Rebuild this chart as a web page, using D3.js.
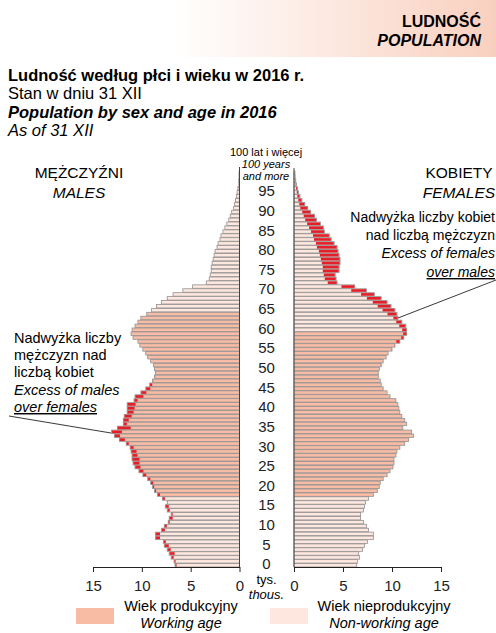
<!DOCTYPE html>
<html>
<head>
<meta charset="utf-8">
<script src="https://cdn.jsdelivr.net/npm/d3@7"></script>
<style>
  body { margin: 0; background: #fff; }
  svg { display: block; font-family: "Liberation Sans", Arial, sans-serif; }
  .narrow { font-family: "Liberation Sans Narrow", "Arial Narrow", "Liberation Sans", sans-serif; }
</style>
</head>
<body>
<script>
// ages 0..100 (100 = 100 years and more)
var ages = d3.range(0, 101);

// thousands, index = age
var males = [
  6.6, 6.7, 7.0, 7.2, 7.4, 7.7, 7.8, 8.6, 8.6, 8.0,
  7.7, 7.3, 7.2, 7.0, 7.4, 7.6, 7.4, 7.9, 8.4, 8.7,
  8.9, 9.1, 9.4, 9.9, 10.3, 10.7, 10.9, 11.0, 11.0, 11.1,
  11.2, 11.6, 12.3, 12.8, 13.1, 12.5, 11.9, 11.9, 11.8, 11.5,
  11.5, 11.5, 10.8, 10.7, 10.1, 9.6, 9.2, 8.9, 8.7, 8.6,
  8.7, 8.8, 9.1, 9.4, 9.6, 9.9, 10.2, 10.4, 10.9, 11.1,
  11.0, 10.7, 10.4, 10.1, 9.5, 9.0, 8.5, 8.0, 7.4, 6.8,
  5.8, 4.8, 3.4, 3.1, 3.0, 2.9, 2.9, 2.8, 2.7, 2.6,
  2.5, 2.3, 2.2, 2.0, 1.9, 1.7, 1.5, 1.3, 1.1, 0.95,
  0.8, 0.6, 0.5, 0.4, 0.3, 0.25, 0.17, 0.12, 0.08, 0.05,
  0.05
];
var females = [
  6.4, 6.5, 6.7, 6.6, 7.0, 7.2, 7.5, 8.1, 8.1, 7.6,
  7.4, 7.1, 6.8, 6.8, 7.1, 7.2, 7.3, 7.6, 8.1, 8.5,
  8.7, 8.8, 9.1, 9.5, 9.8, 10.1, 10.2, 10.2, 10.4, 10.5,
  10.8, 11.3, 11.7, 12.2, 12.0, 11.1, 11.5, 11.3, 11.0, 10.8,
  10.7, 10.6, 10.4, 9.8, 9.5, 9.1, 8.9, 8.8, 8.6, 8.6,
  8.7, 8.9, 9.1, 9.4, 9.6, 10.0, 10.3, 10.8, 11.2, 11.5,
  11.5, 11.4, 11.0, 10.6, 10.5, 10.3, 9.9, 9.5, 8.9, 8.2,
  7.4, 6.2, 4.4, 4.3, 4.2, 4.6, 4.6, 4.7, 4.7, 4.6,
  4.5, 4.4, 4.1, 3.8, 3.6, 3.1, 3.0, 2.7, 2.3, 2.1,
  1.7, 1.4, 1.1, 0.8, 0.6, 0.45, 0.35, 0.25, 0.18, 0.12,
  0.1
];
var maleWorking = [18, 64];
var femaleWorking = [18, 59];
var xTicks = [15, 10, 5, 0];
var ageTicks = [0, 5, 10, 15, 20, 25, 30, 35, 40, 45, 50, 55, 60, 65, 70, 75, 80, 85, 90, 95];

var colWork = "#f8bba4", colNon = "#fde7de", colRed = "#e3202a", colEdge = "#929090";

var svg = d3.select("body").append("svg").attr("width", 496).attr("height", 633);

// header band
var grad = svg.append("defs").append("linearGradient").attr("id", "hdr");
grad.append("stop").attr("offset", "0%").attr("stop-color", "#ffffff");
grad.append("stop").attr("offset", "35%").attr("stop-color", "#ffffff");
grad.append("stop").attr("offset", "100%").attr("stop-color", "#f9d0bf");
svg.append("rect").attr("x", 0).attr("y", 0).attr("width", 496).attr("height", 57).attr("fill", "url(#hdr)");
svg.append("text").attr("x", 481).attr("y", 27).attr("text-anchor", "end")
  .style("font-size", "16px").style("font-weight", "bold").text("LUDNOŚĆ");
svg.append("text").attr("x", 481).attr("y", 46).attr("text-anchor", "end")
  .style("font-size", "16px").style("font-weight", "bold").style("font-style", "italic").text("POPULATION");

// titles
var titles = [
  {t: "Ludność według płci i wieku w 2016 r.", y: 81, w: "bold", s: "normal"},
  {t: "Stan w dniu 31 XII", y: 99, w: "normal", s: "normal"},
  {t: "Population by sex and age in 2016", y: 118, w: "bold", s: "italic"},
  {t: "As of 31 XII", y: 136, w: "normal", s: "italic"}
];
svg.selectAll(".ttl").data(titles).enter().append("text")
  .attr("x", 8).attr("y", function(d){ return d.y; })
  .style("font-size", "16.5px").style("font-weight", function(d){ return d.w; })
  .style("font-style", function(d){ return d.s; }).text(function(d){ return d.t; });

// scales
var y = d3.scaleBand().domain(ages).range([567, 171]).paddingInner(0.12);
var xL = d3.scaleLinear().domain([0, 15]).range([239.5, 93]);
var xR = d3.scaleLinear().domain([0, 15]).range([294, 441]);

function inRange(a, r){ return a >= r[0] && a <= r[1]; }

// males
var gm = svg.append("g");
gm.selectAll("rect.bar").data(ages).enter().append("rect").attr("class", "bar")
  .attr("x", function(a){ return xL(males[a]); })
  .attr("y", function(a){ return y(a); })
  .attr("width", function(a){ return xL(0) - xL(males[a]); })
  .attr("height", y.bandwidth())
  .attr("fill", function(a){ return inRange(a, maleWorking) ? colWork : colNon; })
  .attr("stroke", colEdge).attr("stroke-width", 0.8);
gm.selectAll("rect.ex").data(ages.filter(function(a){ return males[a] > females[a]; })).enter()
  .append("rect").attr("class", "ex")
  .attr("x", function(a){ return xL(males[a]) + 0.4; })
  .attr("y", function(a){ return y(a) + 0.4; })
  .attr("width", function(a){ return Math.max(0, xL(females[a]) - xL(males[a]) - 0.8); })
  .attr("height", y.bandwidth() - 0.8)
  .attr("fill", colRed);

// females
var gf = svg.append("g");
gf.selectAll("rect.bar").data(ages).enter().append("rect").attr("class", "bar")
  .attr("x", xR(0))
  .attr("y", function(a){ return y(a); })
  .attr("width", function(a){ return xR(females[a]) - xR(0); })
  .attr("height", y.bandwidth())
  .attr("fill", function(a){ return inRange(a, femaleWorking) ? colWork : colNon; })
  .attr("stroke", colEdge).attr("stroke-width", 0.8);
gf.selectAll("rect.ex").data(ages.filter(function(a){ return females[a] > males[a]; })).enter()
  .append("rect").attr("class", "ex")
  .attr("x", function(a){ return xR(males[a]) + 0.4; })
  .attr("y", function(a){ return y(a) + 0.4; })
  .attr("width", function(a){ return Math.max(0, xR(females[a]) - xR(males[a]) - 0.8); })
  .attr("height", y.bandwidth() - 0.8)
  .attr("fill", colRed);

// vertical axis lines
svg.append("line").attr("x1", 239.5).attr("x2", 239.5).attr("y1", 167).attr("y2", 567)
  .attr("stroke", "#444").attr("stroke-width", 1);
svg.append("line").attr("x1", 294).attr("x2", 294).attr("y1", 168).attr("y2", 567)
  .attr("stroke", "#444").attr("stroke-width", 1);

// bottom axes
function styleAxis(g){
  g.select(".domain").attr("stroke", "#222").attr("stroke-width", 1.2);
  g.selectAll(".tick line").attr("stroke", "#222");
  g.selectAll(".tick text").attr("fill", "#222").style("font-size", "15px")
    .style("font-family", "\"Liberation Sans\", Arial, sans-serif").attr("dy", "1.05em");
}
svg.append("g").attr("transform", "translate(0,567)")
  .call(d3.axisBottom(xL).tickValues(xTicks).tickSize(5).tickSizeOuter(0).tickFormat(d3.format("d")))
  .call(styleAxis);
svg.append("g").attr("transform", "translate(0,567)")
  .call(d3.axisBottom(xR).tickValues(xTicks).tickSize(5).tickSizeOuter(0).tickFormat(d3.format("d")))
  .call(styleAxis);

// age labels in the middle
svg.selectAll(".age").data(ageTicks).enter().append("text")
  .attr("x", 266.5).attr("y", function(a){ return y(a) + y.bandwidth() / 2 + 4; })
  .attr("text-anchor", "middle").style("font-size", "15px").attr("fill", "#222")
  .text(function(a){ return a; });

var topLbl = svg.append("g").attr("class", "narrow").attr("text-anchor", "middle");
topLbl.append("text").attr("x", 266).attr("y", 156).style("font-size", "11px").text("100 lat i więcej");
topLbl.append("text").attr("x", 266).attr("y", 168).style("font-size", "11px").style("font-style", "italic").text("100 years");
topLbl.append("text").attr("x", 266).attr("y", 180).style("font-size", "11px").style("font-style", "italic").text("and more");

svg.append("text").attr("x", 266.5).attr("y", 584).attr("text-anchor", "middle").style("font-size", "13px").text("tys.");
svg.append("text").attr("x", 266.5).attr("y", 599).attr("text-anchor", "middle").style("font-size", "13px").style("font-style", "italic").text("thous.");

// sex labels
svg.append("text").attr("x", 79).attr("y", 178).attr("text-anchor", "middle").style("font-size", "15.5px").text("MĘŻCZYŹNI");
svg.append("text").attr("x", 79).attr("y", 198).attr("text-anchor", "middle").style("font-size", "15.5px").style("font-style", "italic").text("MALES");
svg.append("text").attr("x", 459).attr("y", 178).attr("text-anchor", "middle").style("font-size", "15.5px").text("KOBIETY");
svg.append("text").attr("x", 459).attr("y", 198).attr("text-anchor", "middle").style("font-size", "15.5px").style("font-style", "italic").text("FEMALES");

// annotations
var annR = [
  {t: "Nadwyżka liczby kobiet", y: 222, s: "normal"},
  {t: "nad liczbą mężczyzn", y: 240, s: "normal"},
  {t: "Excess of females", y: 258, s: "italic"},
  {t: "over males", y: 277, s: "italic", u: true}
];
svg.selectAll(".annR").data(annR).enter().append("text")
  .attr("x", 495).attr("y", function(d){ return d.y; })
  .attr("text-anchor", "end").style("font-size", "14px")
  .style("font-style", function(d){ return d.s; })
  .style("text-decoration", function(d){ return d.u ? "underline" : "none"; })
  .text(function(d){ return d.t; });
svg.append("line").attr("x1", 398).attr("y1", 318).attr("x2", 496).attr("y2", 280).attr("stroke", "#222").attr("stroke-width", 0.9);

var annL = [
  {t: "Nadwyżka liczby", y: 343, s: "normal"},
  {t: "mężczyzn nad", y: 360, s: "normal"},
  {t: "liczbą kobiet", y: 377, s: "normal"},
  {t: "Excess of males", y: 395, s: "italic"},
  {t: "over females", y: 412, s: "italic", u: true}
];
svg.selectAll(".annL").data(annL).enter().append("text")
  .attr("x", 14).attr("y", function(d){ return d.y; })
  .style("font-size", "14.5px")
  .style("font-style", function(d){ return d.s; })
  .style("text-decoration", function(d){ return d.u ? "underline" : "none"; })
  .text(function(d){ return d.t; });
svg.append("line").attr("x1", 9).attr("y1", 416).attr("x2", 111).attr("y2", 433).attr("stroke", "#222").attr("stroke-width", 0.9);

// legend
var legend = [
  {c: colWork, x: 76, l1: "Wiek produkcyjny", l2: "Working age", tx: 181},
  {c: colNon, x: 270, l1: "Wiek nieprodukcyjny", l2: "Non-working age", tx: 384}
];
var lg = svg.selectAll(".lg").data(legend).enter().append("g");
lg.append("rect").attr("x", function(d){ return d.x; }).attr("y", 608).attr("width", 38).attr("height", 16)
  .attr("fill", function(d){ return d.c; });
lg.append("text").attr("x", function(d){ return d.tx; }).attr("y", 611).attr("text-anchor", "middle")
  .style("font-size", "14.5px").text(function(d){ return d.l1; });
lg.append("text").attr("x", function(d){ return d.tx; }).attr("y", 628).attr("text-anchor", "middle")
  .style("font-size", "14.5px").style("font-style", "italic").text(function(d){ return d.l2; });
</script>
</body>
</html>
